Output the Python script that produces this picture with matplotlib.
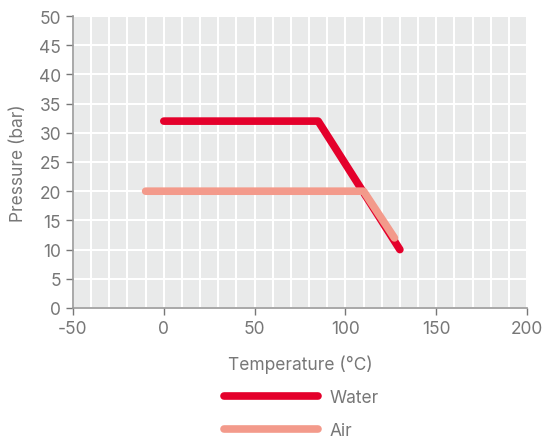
import matplotlib
matplotlib.use("Agg")
import matplotlib.pyplot as plt
from matplotlib.ticker import MultipleLocator

# données
water_temp = [0, 85, 130]
water_pres = [32, 32, 10]
air_temp = [-10, 110, 127]
air_pres = [20, 20, 12]

x_ticks = [-50, 0, 50, 100, 150, 200]
y_ticks = [0, 5, 10, 15, 20, 25, 30, 35, 40, 45, 50]

WATER = "#e4002b"
AIR = "#f39a8b"
GREY = "#777777"

plt.rcParams["font.family"] = ["Inter", "DejaVu Sans"]
plt.rcParams["axes.unicode_minus"] = False

fig = plt.figure(figsize=(5.45, 4.39), dpi=100)
ax = fig.add_axes([73 / 545, 1 - 309 / 439, 454 / 545, 292 / 439])
ax.set_facecolor("#e9eaea")

ax.plot(water_temp, water_pres, color=WATER, lw=5.5, solid_capstyle="round",
        solid_joinstyle="round", label="Water", zorder=3)
ax.plot(air_temp, air_pres, color=AIR, lw=5.5, solid_capstyle="round",
        solid_joinstyle="round", label="Air", zorder=4)

ax.set_xlim(-50, 200)
ax.set_ylim(0, 50)
ax.set_xticks(x_ticks)
ax.set_yticks(y_ticks)
ax.xaxis.set_minor_locator(MultipleLocator(10))
ax.grid(True, which="both", color="white", lw=1.5, zorder=1)
ax.set_axisbelow(True)
ax.tick_params(which="minor", length=0)
ax.tick_params(which="major", colors=GREY, labelsize=12.5, length=5, width=1)
for lab in ax.get_xticklabels() + ax.get_yticklabels():
    lab.set_color(GREY)

for s in ["top", "right"]:
    ax.spines[s].set_visible(False)
for s in ["left", "bottom"]:
    ax.spines[s].set_color("#999999")
    ax.spines[s].set_linewidth(1.2)

ax.set_xlabel("Temperature (°C)", color=GREY, fontsize=12.5, labelpad=13)
ax.set_ylabel("Pressure (bar)", color=GREY, fontsize=12.5, labelpad=9)

leg = fig.legend(loc="center", bbox_to_anchor=(0.553, 1 - 415 / 439),
                 frameon=False, fontsize=12.5, handlelength=5.4,
                 handletextpad=0.7, labelspacing=0.95)
for t in leg.get_texts():
    t.set_color(GREY)

fig.savefig("out.png", dpi=100)
